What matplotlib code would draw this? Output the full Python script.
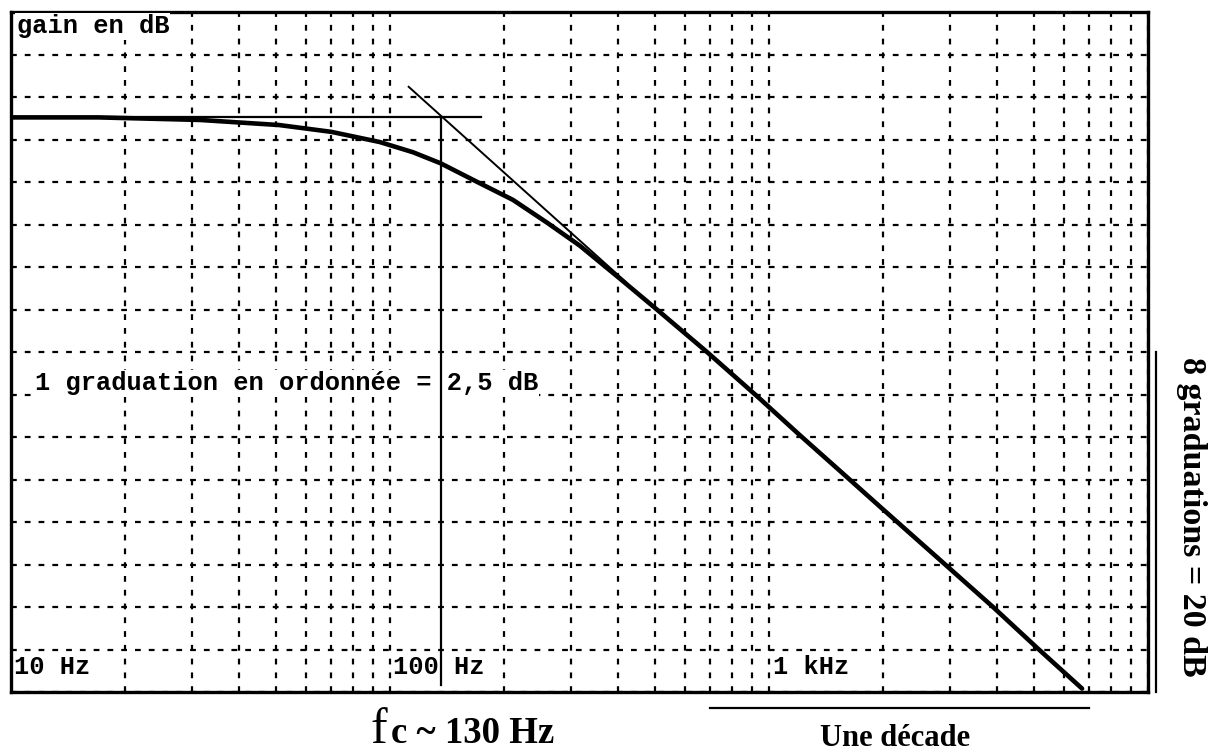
import matplotlib
matplotlib.use("Agg")
import matplotlib.pyplot as plt
import matplotlib.transforms as mtransforms
import numpy as np

# ---- data ----
freq_hz = [10, 17, 31.5, 51, 70, 94, 115, 136, 170, 211, 260, 317, 405, 506,
           686, 930, 1207, 1540, 1963, 2950, 3900, 5095, 6700]
gain_db = [-6.2, -6.2, -6.35, -6.65, -7.05, -7.65, -8.25, -8.9, -10.0, -11.05,
           -12.4, -13.75, -15.7, -17.5, -20.0, -22.6, -24.9, -27.0, -29.1,
           -32.6, -35.0, -37.4, -39.8]

asym_f = [112, 420]
asym_g = [-4.4, -15.9]
plateau_f = [10, 174]
plateau_g = [-6.2, -6.2]
fc_f = [136, 136]
fc_g = [-6.2, -39.6]

decade_f = [700, 7000]
grad_g = [-20, -40]

x_labels = [("10 Hz", 0.003), ("100 Hz", 0.336), ("1 kHz", 0.670)]

W, H, DPI = 1215, 752, 100
fig = plt.figure(figsize=(W / DPI, H / DPI), dpi=DPI)
fig.patch.set_facecolor("white")

L, R, T, B = 11, 1148, 12, 692
ax = fig.add_axes([L / W, 1 - B / H, (R - L) / W, (B - T) / H])
ax.set_xscale("log")
ax.set_xlim(10, 10000)
ax.set_ylim(-40, 0)

ax.set_yticks(np.arange(-40, 0.1, 2.5))
ax.xaxis.set_major_locator(matplotlib.ticker.LogLocator(base=10, numticks=10))
ax.xaxis.set_minor_locator(matplotlib.ticker.LogLocator(base=10, subs=np.arange(2, 10), numticks=20))
ax.tick_params(which="both", length=0, labelbottom=False, labelleft=False)
ax.set_axisbelow(True)
gstyle = dict(color="black", linewidth=1.6, linestyle=(0, (2.6, 3.6)))
ax.grid(True, which="major", axis="both", **gstyle)
ax.grid(True, which="minor", axis="x", **gstyle)
for s in ax.spines.values():
    s.set_linewidth(2.4)
    s.set_color("black")

# curve and construction lines
ax.plot(freq_hz, gain_db, color="black", linewidth=3.3, zorder=6,
        solid_capstyle="round", solid_joinstyle="round")
ax.plot(asym_f, asym_g, color="black", linewidth=1.4, zorder=5)
ax.plot(plateau_f, plateau_g, color="black", linewidth=1.6, zorder=5)
ax.plot(fc_f, fc_g, color="black", linewidth=1.6, zorder=5)

mono = "Liberation Mono"
fs_in = 18.3
wbox = dict(facecolor="white", edgecolor="none", pad=1.0)
ax.text(0.005, 0.979, "gain en dB", transform=ax.transAxes, family=mono,
        fontsize=fs_in, fontweight="bold", ha="left", va="center", bbox=wbox, zorder=3)
ax.text(0.021, 0.454, "1 graduation en ordonnée = 2,5 dB", transform=ax.transAxes,
        family=mono, fontsize=fs_in, fontweight="bold", ha="left", va="center",
        bbox=wbox, zorder=3)
for lab, xf in x_labels:
    ax.text(xf, 0.037, lab, transform=ax.transAxes, family=mono, fontsize=fs_in,
            fontweight="bold", ha="left", va="center", zorder=3)

# outside annotations
serif = "Liberation Serif"
fig.text(371 / W, 1 - 743 / H, "f", family=serif, fontsize=36, ha="left",
         va="baseline")
fig.text(391 / W, 1 - 743 / H, "c ~ 130 Hz", family=serif, fontsize=26.5,
         fontweight="bold", ha="left", va="baseline")

trans_x = mtransforms.blended_transform_factory(ax.transData, fig.transFigure)
ax.plot(decade_f, [1 - 708 / H] * 2, transform=trans_x, color="black",
        linewidth=1.6, clip_on=False)
fig.text(895 / W, 1 - 738 / H, "Une décade", family=serif, fontsize=22,
         fontweight="bold", ha="center", va="center")

trans_y = mtransforms.blended_transform_factory(fig.transFigure, ax.transData)
ax.plot([1156 / W] * 2, grad_g, transform=trans_y, color="black",
        linewidth=1.6, clip_on=False)
fig.text(1191 / W, 1 - 517 / H, "8 graduations = 20 dB", family=serif,
         fontsize=24.5, fontweight="bold", rotation=-90, ha="center", va="center")

fig.savefig("out.png", dpi=DPI, facecolor="white")
